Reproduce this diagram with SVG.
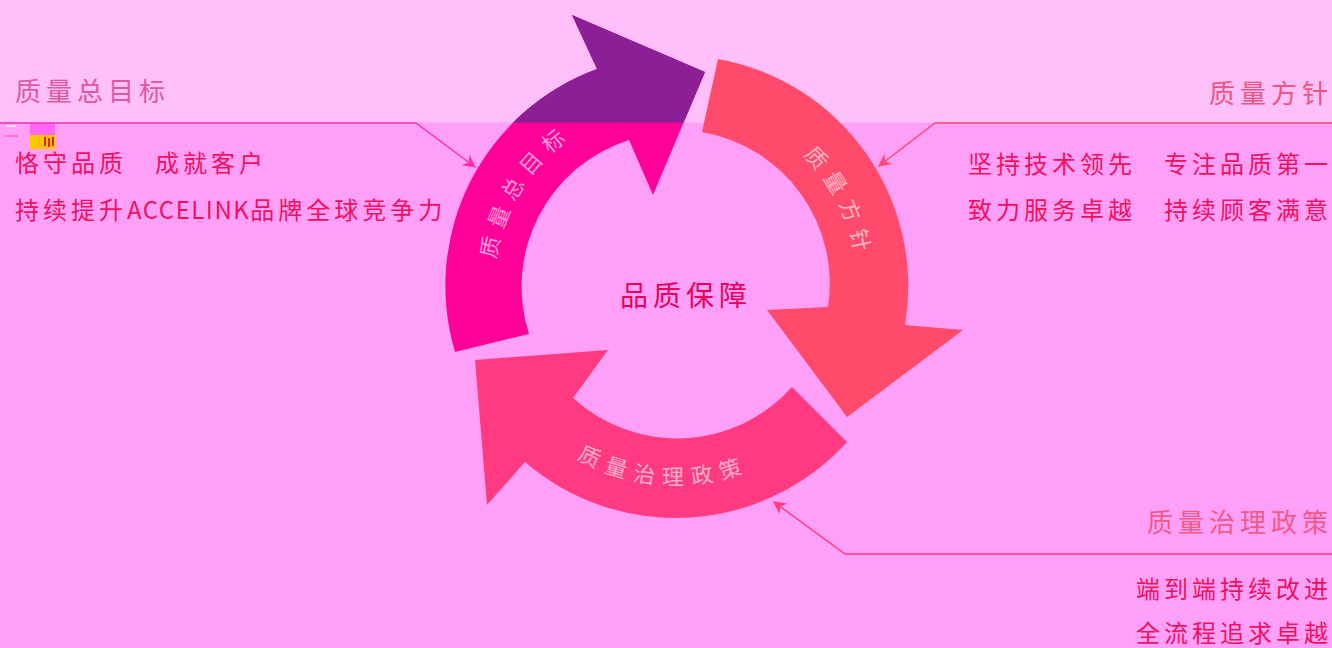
<svg xmlns="http://www.w3.org/2000/svg" width="1332" height="648" viewBox="0 0 1332 648">
  <style>
    .cjk { font-family: "Noto Sans CJK SC", "Noto Sans", sans-serif; }
    .title { font-size: 26px; letter-spacing: 5px; }
    .body { font-size: 24px; letter-spacing: 4px; }
    .latin { letter-spacing: 1.5px; }
    .arc { font-size: 22px; letter-spacing: 8px; fill: #ffffff; fill-opacity: 0.6; }
    .conn { fill: none; stroke-width: 1.5; }
  </style>
  <defs>
    <clipPath id="topBand"><rect x="0" y="0" width="1332" height="122.5"/></clipPath>
    <marker id="ahL" viewBox="0 0 10 10" refX="9" refY="5" markerWidth="13" markerHeight="13" markerUnits="userSpaceOnUse" orient="auto">
      <path d="M0,0 L10,5 L0,10 L3,5 Z" fill="#ff2fb0"/>
    </marker>
    <marker id="ahR" viewBox="0 0 10 10" refX="9" refY="5" markerWidth="13" markerHeight="13" markerUnits="userSpaceOnUse" orient="auto">
      <path d="M0,0 L10,5 L0,10 L3,5 Z" fill="#ff4a70"/>
    </marker>
    <marker id="ahB" viewBox="0 0 10 10" refX="9" refY="5" markerWidth="13" markerHeight="13" markerUnits="userSpaceOnUse" orient="auto">
      <path d="M0,0 L10,5 L0,10 L3,5 Z" fill="#ff3a80"/>
    </marker>
    <path id="tpGoal" d="M 503.1,342.2 A 182 182 0 0 1 650.7,105.8"/>
    <path id="tpPolicy" d="M 716.9,108.7 A 182 182 0 0 1 843.5,357.1"/>
    <path id="tpGov" d="M 515,403 A 199 199 0 0 0 819.1,424.2"/>
  </defs>

  <!-- background -->
  <rect x="0" y="0" width="1332" height="648" fill="#ffa0f8"/>
  <rect x="0" y="0" width="1332" height="122.5" fill="#ffbff9"/>

  <!-- small artifact -->
  <g id="artifact">
    <rect x="6" y="125" width="10" height="2" fill="#ffe8f8"/>
    <rect x="5" y="135" width="13" height="2" fill="#ff70c8"/>
    <rect x="30" y="123" width="25" height="12" fill="#ff68f4"/>
    <rect x="30" y="135" width="25" height="14" fill="#ffc400"/>
    <rect x="44" y="137" width="2" height="9" fill="#e8201c"/>
    <rect x="48" y="138" width="2" height="9" fill="#e8201c"/>
    <rect x="52" y="137" width="2" height="9" fill="#e8201c"/>
  </g>

  <!-- arrows -->
  <g id="node-goal">
    <path d="M 455,352 A 231 231 0 0 1 597,69 L 572,15 L 705,72 L 653,195 L 629,140 A 154 154 0 0 0 529,334 Z" fill="#ff0099"/>
    <path d="M 455,352 A 231 231 0 0 1 597,69 L 572,15 L 705,72 L 653,195 L 629,140 A 154 154 0 0 0 529,334 Z" fill="#8a1f96" clip-path="url(#topBand)"/>
    <text class="cjk arc"><textPath href="#tpGoal" startOffset="50%" text-anchor="middle">质量总目标</textPath></text>
  </g>
  <g id="node-policy">
    <path d="M 718,59 A 231 231 0 0 1 905,325 L 963,330 L 847,417 L 767,310 L 828,307 A 154 154 0 0 0 702,132 Z" fill="#ff4a6b"/>
    <text class="cjk arc"><textPath href="#tpPolicy" startOffset="50%" text-anchor="middle">质量方针</textPath></text>
  </g>
  <g id="node-gov">
    <path d="M 847,442 A 231 231 0 0 1 525,462 L 487,505 L 475,360 L 608,350 L 573,398 A 154 154 0 0 0 792,387 Z" fill="#ff3a80"/>
    <text class="cjk arc"><textPath href="#tpGov" startOffset="50%" text-anchor="middle">质量治理政策</textPath></text>
  </g>
  <g id="node-center">
    <text class="cjk" x="686" y="306" font-size="28" letter-spacing="5" text-anchor="middle" fill="#e8005c">品质保障</text>
  </g>

  <!-- connectors -->
  <g id="connectors">
    <polyline class="conn" points="0,123 416,123 475,167" stroke="#ff2fb0" marker-end="url(#ahL)"/>
    <polyline class="conn" points="1332,123 935,123 879,166" stroke="#ff4a70" marker-end="url(#ahR)"/>
    <polyline class="conn" points="1332,554 845,554 774,502" stroke="#ff3a80" marker-end="url(#ahB)"/>
  </g>

  <!-- side texts -->
  <g id="node-goal-text">
    <text class="cjk title" x="15" y="101" fill="#dc5aa0">质量总目标</text>
    <text class="cjk body" x="15" y="172" fill="#f0105e">恪守品质　成就客户</text>
    <text class="cjk body" x="15" y="219" fill="#f0105e">持续提升<tspan class="latin">ACCELINK</tspan>品牌全球竞争力</text>
  </g>
  <g id="node-policy-text">
    <text class="cjk title" x="1333" y="103" text-anchor="end" fill="#ee5580">质量方针</text>
    <text class="cjk body" x="1332" y="173" text-anchor="end" fill="#f0105e">坚持技术领先　专注品质第一</text>
    <text class="cjk body" x="1332" y="219" text-anchor="end" fill="#f0105e">致力服务卓越　持续顾客满意</text>
  </g>
  <g id="node-gov-text">
    <text class="cjk title" x="1333" y="532" text-anchor="end" fill="#f05a8a">质量治理政策</text>
    <text class="cjk body" x="1332" y="598" text-anchor="end" fill="#f0105e">端到端持续改进</text>
    <text class="cjk body" x="1332" y="642" text-anchor="end" fill="#f0105e">全流程追求卓越</text>
  </g>
</svg>
